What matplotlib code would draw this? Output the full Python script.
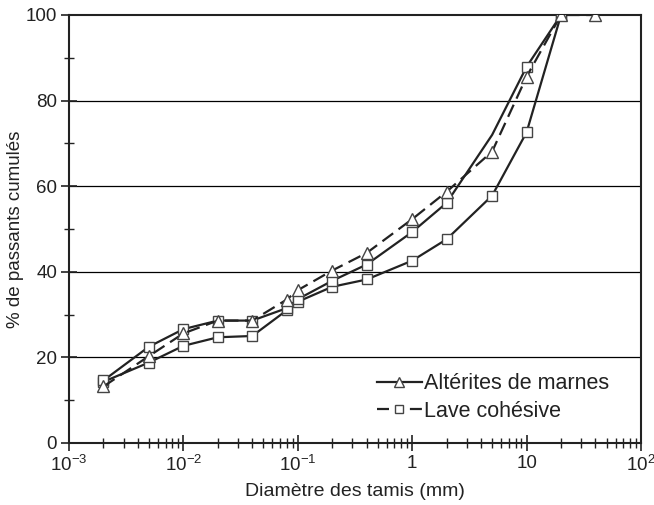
import matplotlib.pyplot as plt
from matplotlib.lines import Line2D
from matplotlib.ticker import LogLocator, FixedLocator, NullFormatter

plt.rcParams['font.family'] = ['Liberation Sans', 'DejaVu Sans']
plt.rcParams['mathtext.fontset'] = 'custom'
plt.rcParams['mathtext.rm'] = 'Liberation Sans'
plt.rcParams['mathtext.it'] = 'Liberation Sans'

# sieve diameters (mm)
diam = [0.002, 0.005, 0.01, 0.02, 0.04, 0.08, 0.1, 0.2, 0.4, 1, 2, 5, 10, 20, 40]
# cumulative passing (%)
tri_pct = [13.2, 20.3, 25.6, 28.6, 28.6, 33.5, 35.7, 40.3, 44.4, 52.3, 58.7, 68.1, 85.6, 100, 100]
sq_upper_pct = [14.6, 22.5, 26.6, 28.6, 28.6, 31.5, 33.6, 37.9, 41.7, 49.3, 56.1, 72.0, 87.9, 100]
sq_lower_pct = [14.3, 18.8, 22.7, 24.7, 25.0, 31.0, 33.0, 36.5, 38.2, 42.6, 47.6, 57.8, 72.6, 100]

legend_labels = ['Altérites de marnes', 'Lave cohésive']
xtick_labels = ['$10^{-3}$', '$10^{-2}$', '$10^{-1}$', '1', '10', '$10^{2}$']

ink = '#222222'
fs = 13.5

fig = plt.figure(figsize=(6.54, 5.05), dpi=100)
ax = fig.add_axes([0.1055, 0.1228, 0.8746, 0.8475])

for yy in [20, 40, 60, 80]:
    ax.axhline(yy, color='black', lw=0.9, zorder=1)

mk = dict(markerfacecolor='white', markeredgecolor='#444444', markeredgewidth=1.0)

ax.plot(diam[:len(sq_lower_pct)], sq_lower_pct, color=ink, lw=1.6, marker='s',
        markersize=6.5, zorder=3, **mk)
ax.plot(diam[:len(sq_upper_pct)], sq_upper_pct, color=ink, lw=1.6, marker='s',
        markersize=6.5, markevery=[i for i in range(len(sq_upper_pct)) if i != 11],
        zorder=3, **mk)
ax.plot(diam, tri_pct, color=ink, lw=1.6, dashes=(6, 3), marker='^',
        markersize=8.5, zorder=4, **mk)

ax.set_xscale('log')
ax.set_xlim(1e-3, 1e2)
ax.set_ylim(0, 100)

ax.xaxis.set_major_locator(FixedLocator([1e-3, 1e-2, 1e-1, 1, 10, 100]))
ax.set_xticklabels(xtick_labels)
ax.xaxis.set_minor_locator(LogLocator(base=10, subs=range(2, 10), numticks=20))
ax.xaxis.set_minor_formatter(NullFormatter())

ax.set_yticks([0, 20, 40, 60, 80, 100])
ax.set_yticks([10, 30, 50, 70, 90], minor=True)

ax.tick_params(which='major', direction='inout', length=11, width=1.2,
               color=ink, labelsize=fs, labelcolor=ink, pad=3)
ax.tick_params(which='minor', direction='inout', length=7, width=1.0, color=ink)

for s in ax.spines.values():
    s.set_linewidth(1.5)
    s.set_color(ink)

ax.set_xlabel('Diamètre des tamis (mm)', fontsize=14, color=ink, labelpad=6)
ax.set_ylabel('% de passants cumulés', fontsize=fs, color=ink, labelpad=1)

handles = [
    Line2D([], [], color=ink, lw=1.6, marker='^', markersize=7, **mk),
    Line2D([], [], color=ink, lw=1.6, dashes=(5.4, 9.4), marker='s', markersize=5.5, **mk),
]
ax.legend(handles, legend_labels, loc='upper left', bbox_to_anchor=(0.538, 0.163),
          frameon=False, fontsize=15.5, handlelength=2.1, handletextpad=0.1,
          labelspacing=0.3, borderpad=0, borderaxespad=0, labelcolor=ink)

fig.savefig('out.png', dpi=100)
